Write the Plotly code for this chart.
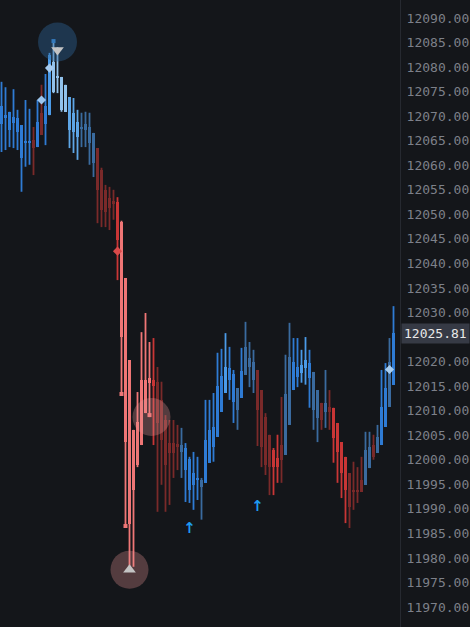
import plotly.graph_objects as go

# --- data -----------------------------------------------------------------
bar_index = list(range(99))

high = [12077.0, 12075.9, 12070.9, 12075.5, 12071.3, 12068.2, 12073.3, 12071.5, 12067.8, 12073.3,
        12076.4, 12078.6, 12082.9, 12085.3, 12084.1, 12078.0, 12076.4, 12073.9, 12073.7, 12071.3,
        12070.7, 12070.9, 12070.7, 12066.6, 12063.5, 12059.5, 12056.0, 12055.6, 12055.0, 12053.5,
        12048.7, 12037.0, 12020.3, 12006.1, 12013.8, 12026.0, 12029.9, 12024.0, 12024.8, 12018.9,
        12015.9, 12009.1, 12008.1, 12008.1, 12007.1, 12006.5, 12003.4, 12000.6, 12001.6, 12000.6,
        11996.3, 12012.2, 12012.2, 12013.6, 12021.8, 12022.6, 12025.8, 12023.0, 12018.3, 12014.6,
        12022.8, 12028.1, 12024.0, 12022.4, 12018.3, 12014.2, 12009.5, 12005.1, 12002.4, 12005.1,
        12012.8, 12021.4, 12027.9, 12024.8, 12024.8, 12022.4, 12025.0, 12022.4, 12017.9, 12014.2,
        12011.6, 12018.3, 12014.2, 12010.6, 12007.5, 12003.6, 12000.6, 11997.3, 11999.6, 11998.5,
        12000.6, 12005.7, 12005.7, 12005.1, 12007.1, 12018.3, 12019.7, 12024.8, 12031.3]
body_top = [12072.1, 12070.2, 12070.9, 12069.8, 12069.6, 12068.2, 12065.0, 12065.0, 12065.2, 12068.8,
            12070.7, 12072.1, 12082.5, 12081.0, 12078.2, 12078.0, 12076.4, 12073.9, 12070.7, 12068.8,
            12067.8, 12068.4, 12067.8, 12066.6, 12063.5, 12059.0, 12055.0, 12053.3, 12052.7, 12052.5,
            12048.5, 12037.0, 12020.3, 12006.1, 12007.7, 12016.3, 12016.3, 12016.7, 12016.3, 12015.9,
            12012.2, 12008.1, 12003.4, 12003.4, 12003.2, 12003.0, 12002.4, 12000.2, 11997.3, 11996.3,
            11995.9, 12004.0, 12006.1, 12006.7, 12015.0, 12017.1, 12018.9, 12018.7, 12017.5, 12014.6,
            12018.1, 12023.0, 12020.8, 12019.9, 12018.3, 12014.2, 12008.7, 12005.1, 12002.0, 12000.4,
            12003.0, 12013.4, 12021.0, 12019.9, 12018.9, 12019.3, 12020.3, 12019.7, 12017.9, 12014.2,
            12011.6, 12011.6, 12010.8, 12010.6, 12007.5, 12003.6, 12000.6, 11997.3, 11993.9, 11993.9,
            11995.9, 12002.0, 12002.6, 12003.0, 12004.7, 12010.8, 12014.6, 12019.9, 12025.81]
body_bottom = [12068.4, 12069.6, 12067.2, 12068.6, 12066.8, 12061.5, 12064.5, 12064.5, 12063.5, 12063.7,
               12066.2, 12068.4, 12070.2, 12074.9, 12077.8, 12071.3, 12070.9, 12067.2, 12066.8, 12065.8,
               12067.4, 12067.2, 12064.5, 12060.5, 12055.0, 12050.9, 12050.5, 12051.3, 12052.1, 12044.8,
               12025.0, 12003.6, 11986.9, 11993.9, 11999.0, 12003.0, 12009.5, 12015.7, 12015.0, 12007.5,
               12004.0, 11999.0, 12001.4, 12001.4, 12002.6, 12001.6, 11997.9, 11993.9, 11994.9, 11995.9,
               11994.5, 11995.3, 11999.4, 12002.6, 12004.7, 12009.8, 12013.6, 12016.3, 12011.8, 12010.2,
               12012.6, 12017.3, 12018.9, 12016.3, 12010.2, 12002.6, 11999.0, 11998.5, 11998.5, 11998.5,
               12000.0, 12001.0, 12007.1, 12014.2, 12016.9, 12017.7, 12018.7, 12016.7, 12010.2, 12008.5,
               12008.1, 12009.8, 12009.8, 12004.5, 12001.6, 11997.3, 11993.9, 11990.4, 11993.5, 11993.5,
               11993.5, 11994.9, 11998.3, 12000.6, 12001.4, 12003.0, 12006.7, 12010.8, 12015.3]
low = [12062.7, 12063.1, 12063.7, 12063.5, 12063.1, 12054.6, 12059.7, 12060.1, 12058.0, 12063.7,
       12066.2, 12064.1, 12070.2, 12074.7, 12074.7, 12070.9, 12070.9, 12063.5, 12062.5, 12061.1,
       12063.7, 12063.7, 12060.1, 12057.6, 12048.2, 12047.4, 12047.4, 12046.8, 12048.9, 12036.6,
       12013.4, 11986.5, 11977.2, 11978.2, 11998.5, 12003.0, 12009.5, 12008.7, 12003.0, 11989.4,
       11994.9, 11989.4, 11990.8, 11996.3, 11997.9, 11996.3, 11991.4, 11991.2, 11989.8, 11991.8,
       11987.8, 11995.3, 11999.4, 11999.6, 12004.7, 12009.8, 12013.6, 12012.2, 12007.5, 12006.1,
       12012.6, 12017.3, 12014.8, 12013.6, 12002.8, 11998.5, 11996.9, 11992.8, 11992.8, 11995.3,
       11995.3, 12001.0, 12007.1, 12014.2, 12014.8, 12015.7, 12015.3, 12010.6, 12006.1, 12003.6,
       12006.1, 12006.5, 12006.1, 11999.4, 11995.3, 11992.2, 11987.1, 11986.1, 11989.8, 11991.2,
       11993.5, 11994.9, 11998.3, 12000.0, 12001.4, 12003.0, 12006.7, 12010.8, 12015.3]
# trend state per bar: B blue, C bright blue, L pale blue, M light blue, S steel,
# D dark red, R red, P salmon
tone = list("BBBBBBBBDBDBCLLLLMMMSSSSDDDDDRPPPPPPPPRDDDDDDSBBBBSBBBBBCBBSBSSSDDDDRRDSSBBCCBSSDSDRRRRDDDDSSDSBBSB")

last_price = 12025.81

pivot_high_x, pivot_high_y = [14], [12085.1]
pivot_low_x, pivot_low_y = [32], [11977.6]
zone_x, zone_y = [37.5], [12008.7]
tick_marks_x = [13, 30, 31, 37]
tick_marks_y = [12085.3, 12013.4, 11986.5, 12009.1]
diamond_x = [10, 12, 29, 97]
diamond_y = [12073.3, 12079.8, 12042.5, 12018.4]
arrow_x = [47, 64]
arrow_y = [11985.9, 11990.4]

# --- styling --------------------------------------------------------------
BG = "#14161a"
TONE_COLORS = {
    "B": "#2f7bd4", "C": "#4b9be8", "L": "#92c2ec", "M": "#5ea6e6",
    "S": "#3a6b9f", "D": "#7a2a2a", "R": "#c93636", "P": "#ef7676",
}
colors = [TONE_COLORS[t] for t in tone]

fig = go.Figure()

# wicks: one line trace per tone, segments split by None
for key, col in TONE_COLORS.items():
    wx, wy = [], []
    for i, t in enumerate(tone):
        if t == key:
            wx += [bar_index[i], bar_index[i], None]
            wy += [low[i], high[i], None]
    if wx:
        fig.add_trace(go.Scatter(x=wx, y=wy, mode="lines",
                                 line=dict(color=col, width=1.8), hoverinfo="skip"))

# bodies
fig.add_trace(go.Bar(
    x=bar_index, y=[max(t - b, 0.4) for t, b in zip(body_top, body_bottom)], base=body_bottom,
    width=0.75, marker=dict(color=colors, line_width=0),
))

# small tick squares
fig.add_trace(go.Scatter(
    x=tick_marks_x, y=tick_marks_y, mode="markers",
    marker=dict(symbol="square", size=4, color=["#3a8ad8", "#ef7676", "#ef7676", "#ef7676"]),
))
# diamonds
fig.add_trace(go.Scatter(
    x=diamond_x, y=diamond_y, mode="markers",
    marker=dict(symbol="diamond", size=7, color=["#9cc6ee", "#a6cbef", "#d94a4a", "#a8cdef"]),
))
# pivot halos
fig.add_trace(go.Scatter(
    x=pivot_high_x, y=pivot_high_y, mode="markers",
    marker=dict(size=39, color="rgba(45,100,150,0.42)"),
))
fig.add_trace(go.Scatter(
    x=pivot_low_x + zone_x, y=pivot_low_y + zone_y, mode="markers",
    marker=dict(size=38, color="rgba(235,150,150,0.30)"),
))
# pivot triangles
fig.add_trace(go.Scatter(
    x=pivot_high_x, y=[pivot_high_y[0] - 1.6], mode="markers",
    marker=dict(symbol="triangle-down", size=11, color="#c4c4c4"),
))
fig.add_trace(go.Scatter(
    x=pivot_low_x, y=pivot_low_y, mode="markers",
    marker=dict(symbol="triangle-up", size=11, color="#c4c4c4"),
))
# signal arrows
fig.add_trace(go.Scatter(
    x=arrow_x, y=arrow_y, mode="text", text=["<b>↑</b>", "<b>↑</b>"],
    textfont=dict(size=15, color="#1e9bf0", family="DejaVu Sans"),
))

fig.add_annotation(
    x=1, xref="paper", xanchor="left", y=last_price, yref="y",
    text=f"{last_price:.2f}", showarrow=False,
    bgcolor="#363a45", borderpad=2, xshift=1,
    font=dict(family="DejaVu Sans Mono", size=13, color="#e8e8e8"),
)

fig.update_layout(
    width=470, height=627,
    paper_bgcolor=BG, plot_bgcolor=BG,
    margin=dict(l=0, r=70, t=0, b=0),
    barmode="overlay", bargap=0, showlegend=False,
    xaxis=dict(visible=False, range=[-0.375, 99.625]),
    yaxis=dict(
        side="right", range=[11965.93, 12093.67], dtick=5, tick0=11970,
        tickformat=".2f", showgrid=False, zeroline=False,
        showline=True, linecolor="#262930", linewidth=1, ticks="",
        ticklabelstandoff=3,
        tickfont=dict(family="DejaVu Sans Mono", size=13, color="#7d8089"),
    ),
)

# page has no body margin in the reference
fig.write_html("out.html", config={"displayModeBar": False},
               post_script="document.body.style.margin='0';")
